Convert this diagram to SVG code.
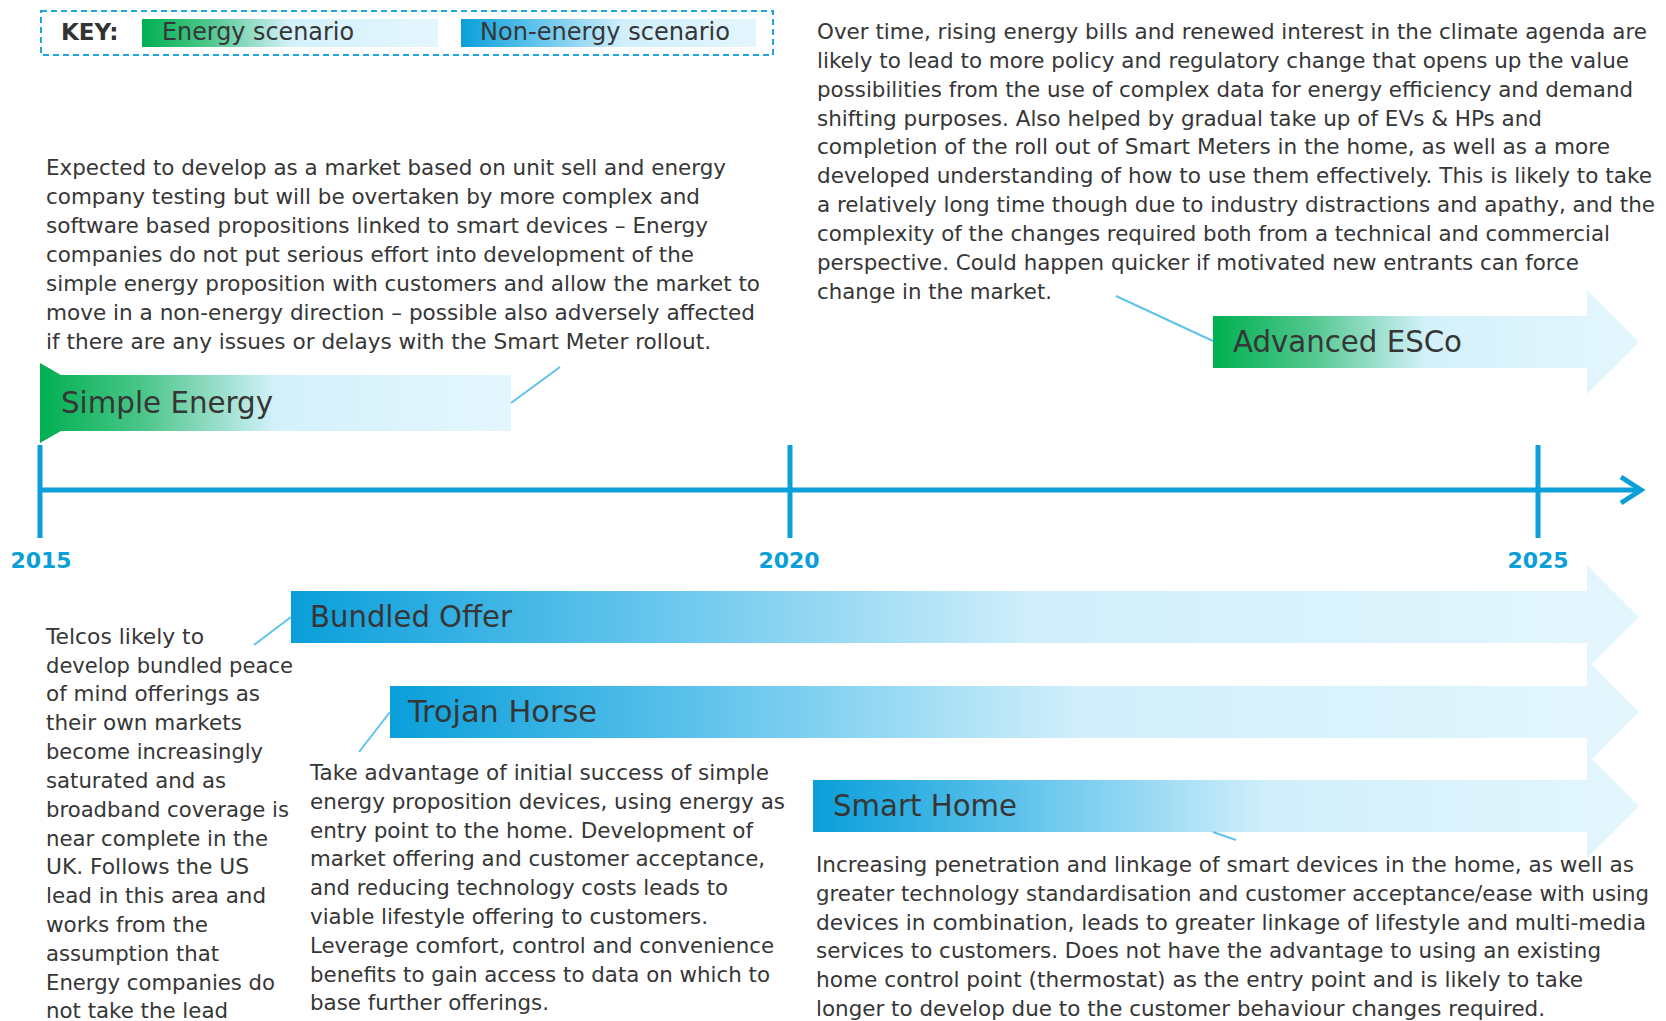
<svg xmlns="http://www.w3.org/2000/svg" width="1666" height="1021" viewBox="0 0 1666 1021">
  <style>
    .txt{font-family:"DejaVu Sans","Verdana",sans-serif;fill:#363636}
    .body{font-size:21px}
    .title{font-size:31px}
    .keyhd{font-family:"DejaVu Sans",sans-serif;font-weight:bold;font-size:23px;fill:#333}
    .keytx{font-size:24px}
    .year{font-family:"DejaVu Sans",sans-serif;font-weight:bold;font-size:22px;fill:#0a9fd8;text-anchor:middle}
    .axis{stroke:#0a9fd8;fill:none}
    .conn{stroke:#5ec3ea;stroke-width:2;fill:none}
  </style>
  <defs>
    <linearGradient id="gEnergy" x1="0" y1="0" x2="1" y2="0">
      <stop offset="0" stop-color="#00b050"/>
      <stop offset="0.22" stop-color="#4cc68a"/>
      <stop offset="0.5" stop-color="#d3f1fb"/>
      <stop offset="1" stop-color="#e4f6fd"/>
    </linearGradient>
    <linearGradient id="gNonEnergy" x1="0" y1="0" x2="1" y2="0">
      <stop offset="0" stop-color="#0a9fda"/>
      <stop offset="0.25" stop-color="#5fc3ec"/>
      <stop offset="0.55" stop-color="#d0effb"/>
      <stop offset="1" stop-color="#e4f6fd"/>
    </linearGradient>
  </defs>

  <!-- key -->
  <g id="key">
    <rect x="41" y="11" width="732" height="44" fill="none" stroke="#1ea6dd" stroke-width="2" stroke-dasharray="6 4"/>
    <text class="keyhd" x="61" y="40">KEY:</text>
    <rect x="142" y="19" width="296" height="28" fill="url(#gEnergy)"/>
    <text class="txt keytx" x="162" y="40" textLength="192" lengthAdjust="spacingAndGlyphs">Energy scenario</text>
    <rect x="461" y="19" width="295" height="28" fill="url(#gNonEnergy)"/>
    <text class="txt keytx" x="480" y="40" textLength="250" lengthAdjust="spacingAndGlyphs">Non-energy scenario</text>
  </g>

  <!-- timeline axis -->
  <g id="timeline">
    <line class="axis" x1="40" y1="490" x2="1638" y2="490" stroke-width="5"/>
    <path class="axis" d="M1621,477 L1641,490 L1621,503" stroke-width="5"/>
    <line class="axis" x1="40" y1="445" x2="40" y2="538" stroke-width="5"/>
    <line class="axis" x1="790" y1="445" x2="790" y2="538" stroke-width="5"/>
    <line class="axis" x1="1538" y1="445" x2="1538" y2="538" stroke-width="5"/>
    <text class="year" x="41" y="568">2015</text>
    <text class="year" x="789" y="568">2020</text>
    <text class="year" x="1538" y="568">2025</text>
  </g>

  <!-- scenario bars -->
  <g id="simple-energy">
    <polygon points="40,363 61,375 511,375 511,431 61,431 40,443" fill="url(#gEnergy)"/>
    <text class="txt title" x="61" y="413" textLength="212" lengthAdjust="spacingAndGlyphs">Simple Energy</text>
  </g>
  <g id="advanced-esco">
    <polygon points="1213,316 1587,316 1587,290 1639,342 1587,394 1587,368 1213,368" fill="url(#gEnergy)"/>
    <text class="txt title" x="1233" y="352" textLength="229" lengthAdjust="spacingAndGlyphs">Advanced ESCo</text>
  </g>
  <g id="bundled-offer">
    <polygon points="291,591 1587,591 1587,565 1639,617 1587,669 1587,643 291,643" fill="url(#gNonEnergy)"/>
    <text class="txt title" x="310" y="627" textLength="202" lengthAdjust="spacingAndGlyphs">Bundled Offer</text>
  </g>
  <g id="trojan-horse">
    <polygon points="390,686 1587,686 1587,660 1639,712 1587,764 1587,738 390,738" fill="url(#gNonEnergy)"/>
    <text class="txt title" x="408" y="722" textLength="189" lengthAdjust="spacingAndGlyphs">Trojan Horse</text>
  </g>
  <g id="smart-home">
    <polygon points="813,780 1587,780 1587,754 1639,806 1587,858 1587,832 813,832" fill="url(#gNonEnergy)"/>
    <text class="txt title" x="833" y="816" textLength="184" lengthAdjust="spacingAndGlyphs">Smart Home</text>
  </g>

  <!-- leader lines from bars to their notes -->
  <g id="connectors">
    <line class="conn" x1="511" y1="403" x2="560" y2="367"/>
    <line class="conn" x1="1213" y1="341" x2="1116" y2="296"/>
    <line class="conn" x1="291" y1="617" x2="254" y2="645"/>
    <line class="conn" x1="390" y1="712" x2="359" y2="752"/>
    <line class="conn" x1="1213" y1="832" x2="1236" y2="840"/>
  </g>

  <!-- notes -->
  <g id="note-simple-energy" class="txt body">
    <text x="46" y="175" textLength="680" lengthAdjust="spacingAndGlyphs">Expected to develop as a market based on unit sell and energy</text>
    <text x="46" y="204" textLength="654" lengthAdjust="spacingAndGlyphs">company testing but will be overtaken by more complex and</text>
    <text x="46" y="233" textLength="662" lengthAdjust="spacingAndGlyphs">software based propositions linked to smart devices – Energy</text>
    <text x="46" y="262" textLength="648" lengthAdjust="spacingAndGlyphs">companies do not put serious effort into development of the</text>
    <text x="46" y="291" textLength="714" lengthAdjust="spacingAndGlyphs">simple energy proposition with customers and allow the market to</text>
    <text x="46" y="320" textLength="709" lengthAdjust="spacingAndGlyphs">move in a non-energy direction – possible also adversely affected</text>
    <text x="46" y="349" textLength="665" lengthAdjust="spacingAndGlyphs">if there are any issues or delays with the Smart Meter rollout.</text>
  </g>

  <g id="note-advanced-esco" class="txt body">
    <text x="817" y="39" textLength="830" lengthAdjust="spacingAndGlyphs">Over time, rising energy bills and renewed interest in the climate agenda are</text>
    <text x="817" y="68" textLength="812" lengthAdjust="spacingAndGlyphs">likely to lead to more policy and regulatory change that opens up the value</text>
    <text x="817" y="97" textLength="816" lengthAdjust="spacingAndGlyphs">possibilities from the use of complex data for energy efficiency and demand</text>
    <text x="817" y="126" textLength="725" lengthAdjust="spacingAndGlyphs">shifting purposes. Also helped by gradual take up of EVs &amp; HPs and</text>
    <text x="817" y="154" textLength="793" lengthAdjust="spacingAndGlyphs">completion of the roll out of Smart Meters in the home, as well as a more</text>
    <text x="817" y="183" textLength="835" lengthAdjust="spacingAndGlyphs">developed understanding of how to use them effectively. This is likely to take</text>
    <text x="817" y="212" textLength="838" lengthAdjust="spacingAndGlyphs">a relatively long time though due to industry distractions and apathy, and the</text>
    <text x="817" y="241" textLength="793" lengthAdjust="spacingAndGlyphs">complexity of the changes required both from a technical and commercial</text>
    <text x="817" y="270" textLength="762" lengthAdjust="spacingAndGlyphs">perspective. Could happen quicker if motivated new entrants can force</text>
    <text x="817" y="299" textLength="235" lengthAdjust="spacingAndGlyphs">change in the market.</text>
  </g>

  <g id="note-bundled-offer" class="txt body">
    <text x="46" y="644" textLength="158" lengthAdjust="spacingAndGlyphs">Telcos likely to</text>
    <text x="46" y="673" textLength="247" lengthAdjust="spacingAndGlyphs">develop bundled peace</text>
    <text x="46" y="701" textLength="214" lengthAdjust="spacingAndGlyphs">of mind offerings as</text>
    <text x="46" y="730" textLength="196" lengthAdjust="spacingAndGlyphs">their own markets</text>
    <text x="46" y="759" textLength="217" lengthAdjust="spacingAndGlyphs">become increasingly</text>
    <text x="46" y="788" textLength="180" lengthAdjust="spacingAndGlyphs">saturated and as</text>
    <text x="46" y="817" textLength="243" lengthAdjust="spacingAndGlyphs">broadband coverage is</text>
    <text x="46" y="846" textLength="222" lengthAdjust="spacingAndGlyphs">near complete in the</text>
    <text x="46" y="874" textLength="203" lengthAdjust="spacingAndGlyphs">UK. Follows the US</text>
    <text x="46" y="903" textLength="220" lengthAdjust="spacingAndGlyphs">lead in this area and</text>
    <text x="46" y="932" textLength="162" lengthAdjust="spacingAndGlyphs">works from the</text>
    <text x="46" y="961" textLength="173" lengthAdjust="spacingAndGlyphs">assumption that</text>
    <text x="46" y="990" textLength="229" lengthAdjust="spacingAndGlyphs">Energy companies do</text>
    <text x="46" y="1018" textLength="182" lengthAdjust="spacingAndGlyphs">not take the lead</text>
  </g>

  <g id="note-trojan-horse" class="txt body">
    <text x="310" y="780" textLength="459" lengthAdjust="spacingAndGlyphs">Take advantage of initial success of simple</text>
    <text x="310" y="809" textLength="475" lengthAdjust="spacingAndGlyphs">energy proposition devices, using energy as</text>
    <text x="310" y="838" textLength="443" lengthAdjust="spacingAndGlyphs">entry point to the home. Development of</text>
    <text x="310" y="866" textLength="455" lengthAdjust="spacingAndGlyphs">market offering and customer acceptance,</text>
    <text x="310" y="895" textLength="418" lengthAdjust="spacingAndGlyphs">and reducing technology costs leads to</text>
    <text x="310" y="924" textLength="398" lengthAdjust="spacingAndGlyphs">viable lifestyle offering to customers.</text>
    <text x="310" y="953" textLength="464" lengthAdjust="spacingAndGlyphs">Leverage comfort, control and convenience</text>
    <text x="310" y="982" textLength="460" lengthAdjust="spacingAndGlyphs">benefits to gain access to data on which to</text>
    <text x="310" y="1010" textLength="239" lengthAdjust="spacingAndGlyphs">base further offerings.</text>
  </g>

  <g id="note-smart-home" class="txt body">
    <text x="816" y="872" textLength="818" lengthAdjust="spacingAndGlyphs">Increasing penetration and linkage of smart devices in the home, as well as</text>
    <text x="816" y="901" textLength="833" lengthAdjust="spacingAndGlyphs">greater technology standardisation and customer acceptance/ease with using</text>
    <text x="816" y="930" textLength="830" lengthAdjust="spacingAndGlyphs">devices in combination, leads to greater linkage of lifestyle and multi-media</text>
    <text x="816" y="958" textLength="785" lengthAdjust="spacingAndGlyphs">services to customers. Does not have the advantage to using an existing</text>
    <text x="816" y="987" textLength="767" lengthAdjust="spacingAndGlyphs">home control point (thermostat) as the entry point and is likely to take</text>
    <text x="816" y="1016" textLength="729" lengthAdjust="spacingAndGlyphs">longer to develop due to the customer behaviour changes required.</text>
  </g>
</svg>
